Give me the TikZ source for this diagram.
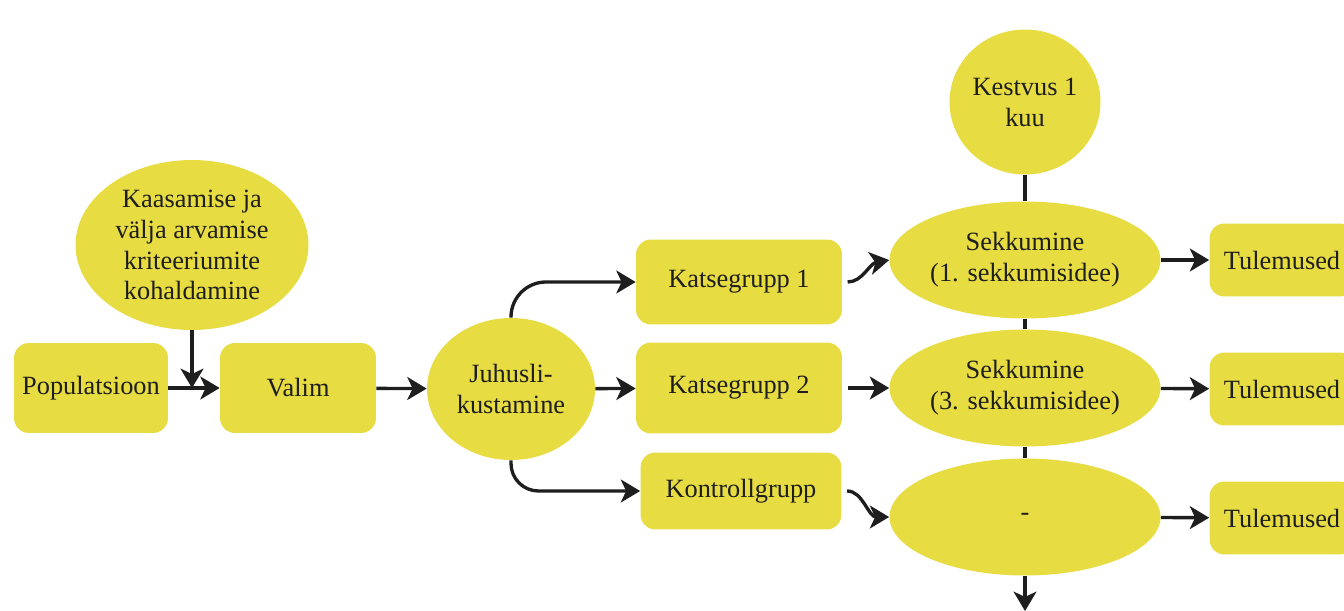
\documentclass[tikz,border=0pt]{standalone}
\usepackage{fontspec}
\setmainfont{Liberation Serif}
\usetikzlibrary{shapes.geometric,arrows.meta}
\definecolor{flowyellow}{RGB}{231,220,66}
\definecolor{flowink}{RGB}{30,30,30}
\begin{document}
\begin{tikzpicture}[x=0.02cm, y=-0.02cm,
    every node/.style={font=\fontsize{15}{17.6}\selectfont, text=flowink, align=center},
    box/.style={rectangle, rounded corners=0.3cm, fill=flowyellow, inner sep=0pt},
    oval/.style={ellipse, fill=flowyellow, inner sep=0pt},
    arr/.style={draw=flowink, line width=1.9pt, -{Stealth[length=11pt, width=13pt, inset=3pt]}},
    link/.style={draw=flowink, line width=1.9pt}]
    \useasboundingbox (0,0) rectangle (1344,611);
    % left part
    \node[box, minimum width=3.08cm, minimum height=1.8cm] (pop) at (91,388) {Populatsioon};
    \node[box, minimum width=3.12cm, minimum height=1.8cm] (valim) at (298,388) {Valim};
    \node[oval, minimum width=4.66cm, minimum height=3.4cm] (krit) at (192,245) {Kaasamise ja\\välja arvamise\\kriteeriumite\\kohaldamine};
    \node[oval, minimum width=3.36cm, minimum height=2.84cm] (juh) at (511,389) {Juhusli-\\kustamine};
    % groups
    \node[box, minimum width=4.12cm, minimum height=1.7cm] (kg1) at (739,282) {Katsegrupp 1};
    \node[box, minimum width=4.12cm, minimum height=1.82cm] (kg2) at (739,388) {Katsegrupp 2};
    \node[box, minimum width=4.02cm, minimum height=1.54cm] (kontr) at (741,491) {Kontrollgrupp};
    % interventions
    \node[oval, minimum width=3.02cm, minimum height=2.9cm] (kestvus) at (1025,102) {Kestvus 1\\kuu};
    \node[oval, minimum width=5.42cm, minimum height=2.34cm] (sek1) at (1025,260) {Sekkumine\\(1. sekkumisidee)};
    \node[oval, minimum width=5.42cm, minimum height=2.34cm] (sek2) at (1025,388) {Sekkumine\\(3. sekkumisidee)};
    \node[oval, minimum width=5.42cm, minimum height=2.34cm] (sek3) at (1025,517) {-};
    \coordinate (lopp) at (1025,611);
    % results
    \node[box, minimum width=2.9cm, minimum height=1.46cm] (tul1) at (1282,260) {Tulemused};
    \node[box, minimum width=2.9cm, minimum height=1.46cm] (tul2) at (1282,389) {Tulemused};
    \node[box, minimum width=2.9cm, minimum height=1.46cm] (tul3) at (1282,518) {Tulemused};
    % connectors
    \draw[arr] (pop) -- (valim);
    \draw[arr] (krit.south) -- (krit.south |- pop.east);
    \draw[arr] (valim) -- (juh);
    \draw[arr, rounded corners=0.7cm] (juh.north) |- (kg1.west);
    \draw[arr] (juh) -- (kg2);
    \draw[arr, rounded corners=0.55cm] (juh.south) |- (kontr.west);
    \draw[arr, shorten <=3pt] (kg1.east) to[out=0, in=190] (sek1.west);
    \draw[arr, shorten <=3pt] (kg2.east) -- (sek2.west);
    \draw[arr, shorten <=3pt] (kontr.east) to[out=0, in=180] (sek3.west);
    \draw[link] (kestvus) -- (sek1);
    \draw[link] (sek1) -- (sek2);
    \draw[link] (sek2) -- (sek3);
    \draw[arr] (sek3) -- (lopp);
    \foreach \from/\to in {sek1/tul1, sek2/tul2, sek3/tul3}
        \draw[arr] (\from) -- (\to);
\end{tikzpicture}
\end{document}
